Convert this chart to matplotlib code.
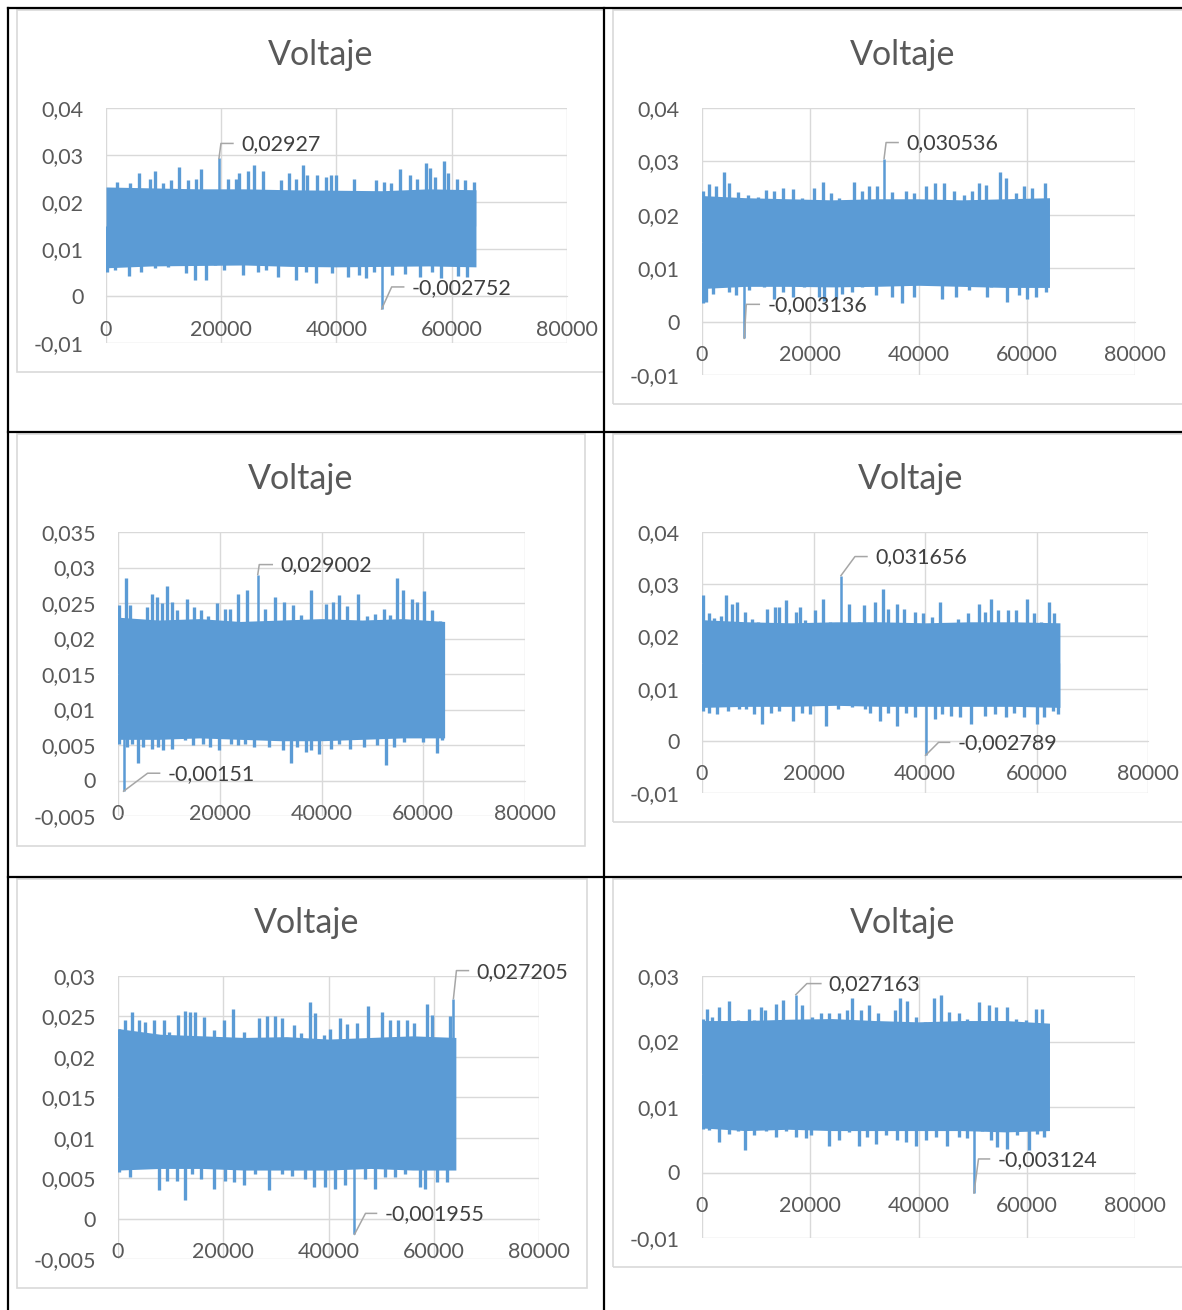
import numpy as np
import matplotlib.pyplot as plt
from matplotlib.lines import Line2D
from matplotlib.patches import Rectangle
from matplotlib.ticker import FuncFormatter

plt.rcParams['font.family'] = ['Lato', 'DejaVu Sans']

W, H = 1182, 1310
AZUL = '#5B9BD5'
TXT = '#595959'
TXT_ETQ = '#404040'
REJILLA = '#D9D9D9'
GUIA = '#A6A6A6'

# ---------- datos: banda central de la señal (muestras) ----------
BAND_X = [0, 8000, 16000, 24000, 32000, 40000, 48000, 56000, 64200]

# Medición 1
g1_top = [0.0232, 0.0230, 0.0228, 0.0228, 0.0226, 0.0225, 0.0224, 0.0228, 0.0226]
g1_bot = [0.0060, 0.0064, 0.0065, 0.0066, 0.0063, 0.0062, 0.0063, 0.0064, 0.0062]
g1_up_x = [1840, 4150, 5760, 7600, 8470, 9900, 11350, 12600, 14200, 15700, 16500, 21100, 22600, 23150,
           24600, 25750, 27300, 30350, 31700, 32950, 34200, 34950, 36700, 38100, 39000, 40000, 43000,
           46800, 48200, 49500, 51100, 52800, 54000, 55500, 56300, 57100, 58600, 59400, 60900, 62300, 63800]
g1_up_y = [0.0243, 0.0240, 0.0261, 0.0250, 0.0265, 0.0241, 0.0247, 0.0274, 0.0247, 0.0250, 0.0270, 0.0250,
           0.0250, 0.0261, 0.0265, 0.0279, 0.0265, 0.0247, 0.0261, 0.0250, 0.0279, 0.0257, 0.0257, 0.0254,
           0.0257, 0.0257, 0.0250, 0.0247, 0.0243, 0.0240, 0.0270, 0.0257, 0.0250, 0.0284, 0.0272, 0.0254,
           0.0287, 0.0261, 0.0250, 0.0247, 0.0242]
g1_dn_x = [100, 1550, 4030, 6160, 8470, 10770, 13940, 15380, 17280, 18840, 20560, 23730, 26320, 27760,
           29780, 32950, 34680, 36520, 39280, 42050, 43890, 45040, 46480, 49650, 51950, 54550, 56560,
           58180, 61170, 62610]
g1_dn_y = [0.0052, 0.0055, 0.0043, 0.0052, 0.0059, 0.0062, 0.0048, 0.0035, 0.0034, 0.0066, 0.0055, 0.0045,
           0.0052, 0.0055, 0.0041, 0.0033, 0.0052, 0.0027, 0.0048, 0.0041, 0.0045, 0.0038, 0.0052, 0.0045,
           0.0047, 0.0041, 0.0052, 0.0038, 0.0043, 0.0041]
g1_max = (19600, 0.02927)
g1_min = (47840, -0.002752)

# Medición 2
g2_top = [0.0236, 0.0232, 0.0230, 0.0228, 0.0230, 0.0230, 0.0228, 0.0230, 0.0232]
g2_bot = [0.0062, 0.0066, 0.0066, 0.0065, 0.0066, 0.0068, 0.0066, 0.0064, 0.0064]
g2_up_x = [250, 1350, 2580, 4120, 5040, 6580, 8430, 10270, 11810, 13350, 14880, 16730, 18450, 20730,
           22390, 23800, 25340, 27060, 28110, 29640, 30870, 32410, 35180, 37640, 39180, 41330, 43050,
           44710, 46560, 48400, 49940, 51170, 52400, 54980, 56090, 57930, 59470, 61010, 63350]
g2_up_y = [0.0244, 0.0258, 0.0253, 0.0280, 0.0259, 0.0242, 0.0237, 0.0234, 0.0247, 0.0245, 0.0250, 0.0248,
           0.0231, 0.0250, 0.0262, 0.0240, 0.0231, 0.0222, 0.0261, 0.0244, 0.0254, 0.0253, 0.0242, 0.0245,
           0.0240, 0.0253, 0.0259, 0.0260, 0.0244, 0.0237, 0.0244, 0.0259, 0.0255, 0.0280, 0.0269, 0.0240,
           0.0253, 0.0250, 0.0260]
g2_dn_x = [250, 740, 1970, 3510, 5040, 6270, 8730, 11500, 13350, 14880, 16730, 18880, 21650, 22570,
           24720, 25950, 27800, 29640, 32100, 35180, 37020, 39180, 41940, 44400, 46860, 49320, 52710,
           53330, 56400, 58550, 60090, 61620, 63470]
g2_dn_y = [0.0035, 0.0037, 0.0052, 0.0065, 0.0055, 0.0049, 0.0059, 0.0065, 0.0043, 0.0055, 0.0046, 0.0065,
           0.0046, 0.0039, 0.0043, 0.0052, 0.0055, 0.0065, 0.0049, 0.0046, 0.0034, 0.0046, 0.0071, 0.0043,
           0.0046, 0.0059, 0.0046, 0.0065, 0.0037, 0.0049, 0.0043, 0.0046, 0.0055]
g2_max = (33640, 0.030536)
g2_min = (7810, -0.003136)

# Medición 3
g3_top = [0.0230, 0.0226, 0.0228, 0.0224, 0.0226, 0.0228, 0.0226, 0.0228, 0.0224]
g3_bot = [0.0058, 0.0058, 0.0060, 0.0058, 0.0056, 0.0056, 0.0058, 0.0060, 0.0060]
g3_up_x = [260, 1560, 2410, 3520, 5660, 6770, 7620, 8590, 9700, 10550, 11520, 13480, 14990, 16400,
           17700, 19530, 20960, 21940, 23570, 25390, 28900, 30860, 32680, 34310, 35930, 37890, 39520,
           40820, 42320, 43420, 45050, 47130, 48960, 50590, 52210, 53390, 54810, 55990, 57740, 58720,
           60150, 61650, 63280]
g3_up_y = [0.0247, 0.0285, 0.0247, 0.0219, 0.0245, 0.0262, 0.0259, 0.0250, 0.0274, 0.0252, 0.0240, 0.0256,
           0.0245, 0.0240, 0.0231, 0.0250, 0.0241, 0.0241, 0.0263, 0.0268, 0.0241, 0.0259, 0.0252, 0.0247,
           0.0233, 0.0269, 0.0226, 0.0249, 0.0252, 0.0261, 0.0246, 0.0262, 0.0231, 0.0235, 0.0242, 0.0233,
           0.0285, 0.0268, 0.0256, 0.0252, 0.0267, 0.0240, 0.0225]
g3_dn_x = [130, 1760, 2730, 3900, 5010, 6640, 7940, 8920, 10680, 13150, 14780, 16730, 18030, 19790,
           22260, 23570, 24870, 26820, 29750, 32350, 33980, 35280, 36910, 37890, 39520, 41790, 43420,
           45700, 48300, 50910, 52730, 54160, 56120, 58070, 60020, 61330, 62630, 63600]
g3_dn_y = [0.0052, 0.0047, 0.0052, 0.0024, 0.0047, 0.0044, 0.0047, 0.0043, 0.0045, 0.0057, 0.0050, 0.0052,
           0.0047, 0.0043, 0.0052, 0.0050, 0.0052, 0.0047, 0.0047, 0.0043, 0.0024, 0.0047, 0.0040, 0.0043,
           0.0037, 0.0045, 0.0052, 0.0045, 0.0047, 0.0050, 0.0022, 0.0047, 0.0054, 0.0061, 0.0054, 0.0061,
           0.0039, 0.0057]
g3_max = (27470, 0.029002)
g3_min = (1100, -0.00151)

# Medición 4
g4_top = [0.0232, 0.0228, 0.0226, 0.0228, 0.0228, 0.0226, 0.0228, 0.0228, 0.0226]
g4_bot = [0.0064, 0.0066, 0.0066, 0.0068, 0.0066, 0.0066, 0.0066, 0.0066, 0.0064]
g4_up_x = [240, 1310, 2200, 3390, 4280, 5470, 6190, 7740, 8930, 10120, 11720, 13090, 13800, 14990,
           16780, 17490, 18560, 20230, 21660, 23030, 26420, 28080, 28980, 31060, 32550, 33440, 34930,
           36290, 38200, 39690, 41170, 42660, 44150, 45930, 47720, 49620, 50690, 51880, 53070, 54860,
           56350, 58310, 59620, 60810, 62300, 63190]
g4_up_y = [0.0279, 0.0244, 0.0236, 0.0240, 0.0279, 0.0263, 0.0266, 0.0247, 0.0234, 0.0228, 0.0253, 0.0256,
           0.0256, 0.0269, 0.0247, 0.0256, 0.0231, 0.0250, 0.0272, 0.0228, 0.0263, 0.0228, 0.0260, 0.0266,
           0.0290, 0.0253, 0.0263, 0.0253, 0.0247, 0.0244, 0.0237, 0.0266, 0.0215, 0.0234, 0.0245, 0.0263,
           0.0247, 0.0272, 0.0250, 0.0250, 0.0250, 0.0272, 0.0244, 0.0228, 0.0266, 0.0244]
g4_dn_x = [240, 1310, 2620, 4580, 6660, 7970, 9340, 10830, 12320, 13800, 16300, 17970, 19460, 22250,
           24390, 26890, 29270, 30170, 31950, 33440, 34930, 36530, 38200, 41770, 42960, 44740, 46230,
           48200, 50690, 52480, 54560, 56050, 57830, 60100, 61400, 62890, 63780]
g4_dn_y = [0.0058, 0.0054, 0.0051, 0.0058, 0.0061, 0.0061, 0.0051, 0.0032, 0.0054, 0.0058, 0.0038, 0.0054,
           0.0051, 0.0029, 0.0061, 0.0064, 0.0061, 0.0054, 0.0038, 0.0054, 0.0029, 0.0054, 0.0045, 0.0042,
           0.0051, 0.0048, 0.0045, 0.0033, 0.0048, 0.0051, 0.0045, 0.0054, 0.0045, 0.0032, 0.0045, 0.0058,
           0.0051]
g4_max = (24930, 0.031656)
g4_min = (40100, -0.002789)

# Medición 5
g5_top = [0.0235, 0.0228, 0.0226, 0.0224, 0.0225, 0.0222, 0.0224, 0.0226, 0.0224]
g5_bot = [0.0060, 0.0062, 0.0062, 0.0060, 0.0060, 0.0060, 0.0062, 0.0060, 0.0060]
g5_up_x = [250, 1270, 2660, 3920, 5190, 6770, 8670, 9750, 11390, 12660, 13740, 14690, 16270, 18170,
           20070, 21840, 23860, 25130, 26710, 28300, 29750, 31140, 33360, 34820, 36520, 37470, 39060,
           40320, 42220, 43490, 45390, 47600, 48740, 50260, 51720, 53300, 54880, 56340, 58680, 59630,
           61530, 63110]
g5_up_y = [0.0235, 0.0246, 0.0255, 0.0245, 0.0243, 0.0246, 0.0246, 0.0231, 0.0252, 0.0257, 0.0256, 0.0255,
           0.0249, 0.0233, 0.0246, 0.0259, 0.0231, 0.0223, 0.0248, 0.0250, 0.0250, 0.0248, 0.0239, 0.0229,
           0.0268, 0.0254, 0.0227, 0.0235, 0.0248, 0.0241, 0.0242, 0.0263, 0.0217, 0.0256, 0.0245, 0.0245,
           0.0246, 0.0242, 0.0265, 0.0252, 0.0221, 0.0250]
g5_dn_x = [250, 1390, 2340, 3610, 5820, 7720, 9310, 11200, 12790, 14050, 15830, 18170, 20380, 21970,
           23860, 26080, 28610, 31140, 33040, 35450, 37160, 39370, 41150, 43170, 46970, 48870, 50770,
           52670, 54560, 57410, 58360, 60580, 62480, 63430]
g5_dn_y = [0.0057, 0.0064, 0.0051, 0.0062, 0.0066, 0.0035, 0.0047, 0.0047, 0.0023, 0.0055, 0.0049, 0.0037,
           0.0047, 0.0045, 0.0041, 0.0055, 0.0035, 0.0055, 0.0053, 0.0049, 0.0039, 0.0039, 0.0037, 0.0041,
           0.0049, 0.0037, 0.0051, 0.0051, 0.0055, 0.0039, 0.0037, 0.0045, 0.0045, 0.0066]
g5_max = (63740, 0.027205)
g5_min = (44940, -0.001955)

# Medición 6
g6_top = [0.0232, 0.0232, 0.0234, 0.0235, 0.0232, 0.0230, 0.0232, 0.0232, 0.0228]
g6_bot = [0.0068, 0.0064, 0.0066, 0.0064, 0.0064, 0.0064, 0.0064, 0.0062, 0.0064]
g6_up_x = [250, 860, 1850, 3200, 5040, 6580, 8610, 9660, 10890, 11690, 13650, 15010, 18450, 20300,
           21960, 23490, 25220, 26880, 27680, 29340, 30870, 32590, 34070, 35670, 36520, 37950, 39480,
           41200, 42870, 44100, 45630, 47480, 49020, 51170, 52960, 54240, 56390, 57930, 59780, 61620,
           62850, 63780]
g6_up_y = [0.0234, 0.0249, 0.0238, 0.0253, 0.0262, 0.0233, 0.0249, 0.0233, 0.0253, 0.0248, 0.0258, 0.0263,
           0.0256, 0.0238, 0.0243, 0.0243, 0.0243, 0.0248, 0.0266, 0.0248, 0.0256, 0.0243, 0.0230, 0.0248,
           0.0266, 0.0262, 0.0238, 0.0230, 0.0267, 0.0271, 0.0245, 0.0243, 0.0235, 0.0261, 0.0256, 0.0253,
           0.0253, 0.0235, 0.0233, 0.0249, 0.0249, 0.0212]
g6_dn_x = [250, 1350, 3200, 5040, 6580, 8000, 9660, 11810, 13650, 15500, 17340, 19190, 20110, 23490,
           25340, 27180, 29030, 30570, 32100, 33950, 36100, 37640, 39480, 41330, 43170, 45320, 47480,
           49020, 51780, 53320, 54550, 56390, 58240, 60390, 61930, 63160]
g6_dn_y = [0.0067, 0.0065, 0.0046, 0.0059, 0.0064, 0.0034, 0.0057, 0.0064, 0.0054, 0.0064, 0.0054, 0.0052,
           0.0057, 0.0041, 0.0049, 0.0062, 0.0041, 0.0054, 0.0044, 0.0057, 0.0049, 0.0046, 0.0041, 0.0049,
           0.0054, 0.0041, 0.0054, 0.0052, 0.0064, 0.0049, 0.0039, 0.0036, 0.0057, 0.0034, 0.0059, 0.0054]
g6_max = (17340, 0.027163)
g6_min = (50250, -0.003124)

X_TICKS = [0, 20000, 40000, 60000, 80000]

# ---------- maquetación (pixeles de la imagen) ----------
# caja de ejes (izq, arriba, der, abajo), límites y, ticks y, centro del título,
# marco del gráfico, guías de etiquetas (dx1, dy1, dx2)
paneles = [
    dict(datos=(g1_top, g1_bot, g1_up_x, g1_up_y, g1_dn_x, g1_dn_y, g1_max, g1_min),
         caja=(106, 108, 567, 343), ylim=(-0.01, 0.04), yt=[-0.01, 0, 0.01, 0.02, 0.03, 0.04],
         titulo=(321, 55), marco=(17, 10, 604, 372), gmax=(2, 15, 12), gmin=(10, 22, 12)),
    dict(datos=(g2_top, g2_bot, g2_up_x, g2_up_y, g2_dn_x, g2_dn_y, g2_max, g2_min),
         caja=(702, 108, 1135, 375), ylim=(-0.01, 0.04), yt=[-0.01, 0, 0.01, 0.02, 0.03, 0.04],
         titulo=(903, 55), marco=(613, 10, 1195, 404), gmax=(2, 16, 12), gmin=(2, 34, 13)),
    dict(datos=(g3_top, g3_bot, g3_up_x, g3_up_y, g3_dn_x, g3_dn_y, g3_max, g3_min),
         caja=(118, 532, 525, 816), ylim=(-0.005, 0.035),
         yt=[-0.005, 0, 0.005, 0.01, 0.015, 0.02, 0.025, 0.03, 0.035],
         titulo=(301, 479), marco=(17, 434, 585, 846), gmax=(1.5, 10, 13), gmin=(24, 18, 12)),
    dict(datos=(g4_top, g4_bot, g4_up_x, g4_up_y, g4_dn_x, g4_dn_y, g4_max, g4_min),
         caja=(702, 532, 1148, 793), ylim=(-0.01, 0.04), yt=[-0.01, 0, 0.01, 0.02, 0.03, 0.04],
         titulo=(911, 479), marco=(613, 434, 1195, 822), gmax=(14, 19, 12), gmin=(13, 13, 11)),
    dict(datos=(g5_top, g5_bot, g5_up_x, g5_up_y, g5_dn_x, g5_dn_y, g5_max, g5_min),
         caja=(118, 976, 539, 1259), ylim=(-0.005, 0.03),
         yt=[-0.005, 0, 0.005, 0.01, 0.015, 0.02, 0.025, 0.03],
         titulo=(307, 923), marco=(17, 879, 587, 1288), gmax=(3, 28, 12), gmin=(11, 21, 11)),
    dict(datos=(g6_top, g6_bot, g6_up_x, g6_up_y, g6_dn_x, g6_dn_y, g6_max, g6_min),
         caja=(702, 976, 1135, 1238), ylim=(-0.01, 0.03), yt=[-0.01, 0, 0.01, 0.02, 0.03],
         titulo=(903, 923), marco=(613, 879, 1195, 1267), gmax=(11, 11, 14), gmin=(4.5, 34, 11)),
]


def fx(px):
    return px / W


def fy(py):
    return 1 - py / H


def coma(v):
    return f"{round(v, 6) + 0.0:g}".replace('.', ',')


fig = plt.figure(figsize=(W / 100, H / 100), dpi=100)
fig.patch.set_facecolor('white')

# marcos claros de cada gráfico
for p in paneles:
    l, t, r, b = p['marco']
    fig.add_artist(Rectangle((fx(l), fy(b)), fx(r) - fx(l), fy(t) - fy(b), transform=fig.transFigure,
                             fill=False, ec=REJILLA, lw=1.2))

ejes = []
for p in paneles:
    l, t, r, b = p['caja']
    ax = fig.add_axes([fx(l), fy(b), fx(r) - fx(l), fy(t) - fy(b)])
    top, bot, up_x, up_y, dn_x, dn_y, pmax, pmin = p['datos']

    ax.fill_between(BAND_X, bot, top, color=AZUL, lw=0, zorder=3)
    ax.vlines(up_x, 0.015, up_y, color=AZUL, lw=2.4, zorder=3)
    ax.vlines(dn_x, dn_y, 0.015, color=AZUL, lw=2.4, zorder=3)
    # picos extremos (los etiquetados)
    ax.vlines([pmax[0], pmin[0]], 0.015, [pmax[1], pmin[1]], color=AZUL, lw=1.8, zorder=3)

    ax.set_xlim(0, 80000)
    ax.set_ylim(*p['ylim'])
    ax.set_xticks(X_TICKS)
    ax.set_yticks(p['yt'])
    ax.xaxis.set_major_formatter(FuncFormatter(lambda v, pos: f"{int(v)}"))
    ax.yaxis.set_major_formatter(FuncFormatter(lambda v, pos: coma(v)))
    ax.grid(True, color=REJILLA, lw=1.0, zorder=0)
    ax.set_axisbelow(True)
    for s in ['top', 'right', 'left']:
        ax.spines[s].set_visible(False)
    ax.spines['bottom'].set_position(('data', 0))
    ax.spines['bottom'].set_color(REJILLA)
    ax.spines['bottom'].set_zorder(1)
    ax.tick_params(axis='x', length=0, pad=17, labelsize=15.5, labelcolor=TXT)
    ax.tick_params(axis='y', length=0, pad=16, labelsize=15.5, labelcolor=TXT)
    ax.set_facecolor('none')

    tx, ty = p['titulo']
    fig.text(fx(tx), fy(ty), 'Voltaje', ha='center', va='center', fontsize=24.5, color=TXT)
    ejes.append(ax)

fig.canvas.draw()

# etiquetas de máximo y mínimo con su línea guía
for ax, p in zip(ejes, paneles):
    pmax, pmin = p['datos'][6], p['datos'][7]
    for punto, (dx1, dy1, dx2) in ((pmax, p['gmax']), (pmin, p['gmin'])):
        x0, y0 = ax.transData.transform(punto)
        xs = [x0, x0 + dx1, x0 + dx1 + dx2]
        ys = [y0, y0 + dy1, y0 + dy1]
        fig.add_artist(Line2D([fx(v) for v in xs], [v / H for v in ys], transform=fig.transFigure,
                              color=GUIA, lw=1.1))
        fig.text(fx(xs[2] + 8), (ys[2] - 1) / H, coma(punto[1]), ha='left', va='center',
                 fontsize=15.5, color=TXT_ETQ)

# líneas de la tabla
tabla = [((8, 1182), (8, 8)), ((8, 8), (8, 1310)), ((604, 604), (8, 1310)),
         ((8, 1182), (432, 432)), ((8, 1182), (877, 877))]
for xs, ys in tabla:
    fig.add_artist(Line2D([fx(v) for v in xs], [fy(v) for v in ys], transform=fig.transFigure,
                          color='black', lw=1.6, solid_capstyle='projecting'))

fig.savefig('out.png', dpi=100, facecolor='white')
